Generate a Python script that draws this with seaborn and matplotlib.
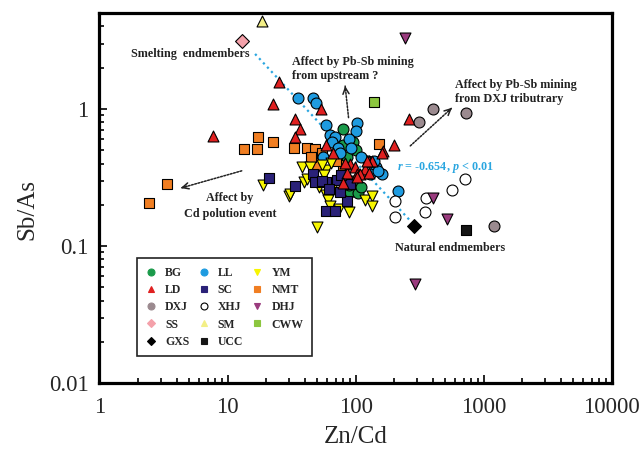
import numpy as np
import pandas as pd
import matplotlib
matplotlib.use('Agg')
import matplotlib.pyplot as plt
import seaborn as sns
from matplotlib.lines import Line2D
from matplotlib.ticker import FixedLocator, LogLocator, NullFormatter

sns.set_style('white')
plt.rcParams['font.family'] = ['Liberation Serif', 'DejaVu Serif']
plt.rcParams['mathtext.fontset'] = 'custom'
plt.rcParams['mathtext.it'] = 'Liberation Serif:italic:bold'
plt.rcParams['mathtext.rm'] = 'Liberation Serif:bold'

# === Data (Zn/Cd, Sb/As) ===
bg_x = [79, 95, 80, 90, 105, 95, 85, 100, 88, 110]
bg_y = [0.71, 0.57, 0.55, 0.25, 0.245, 0.30, 0.45, 0.50, 0.28, 0.27]

ld_x = [25.2, 22.5, 7.7, 54, 33.7, 36.8, 33.7, 59, 200, 163, 259, 90, 99, 102, 85, 126, 133, 118, 108,
        67, 83, 160, 80, 103, 122, 126]
ld_y = [1.57, 1.08, 0.64, 1.0, 0.84, 0.71, 0.62, 0.55, 0.55, 0.495, 0.84, 0.396, 0.375, 0.335, 0.344, 0.418,
        0.418, 0.365, 0.335, 0.48, 0.407, 0.48, 0.29, 0.32, 0.418, 0.344]

dxj_x = [310, 405, 730, 1208]
dxj_y = [0.81, 1.0, 0.94, 0.139]

ss_x = [12.9]
ss_y = [3.12]

gxs_x = [283]
gxs_y = [0.141]

ll_x = [35.3, 46.3, 49.1, 59, 102, 101, 63, 69, 65, 73, 76, 125, 145, 160, 130, 216, 88, 92, 110, 140, 150, 56]
ll_y = [1.2, 1.21, 1.11, 0.77, 0.795, 0.69, 0.65, 0.62, 0.57, 0.52, 0.48, 0.418, 0.375, 0.335, 0.335, 0.253,
        0.60, 0.52, 0.45, 0.42, 0.35, 0.45]

sc_x = [21.1, 46.8, 48.3, 59, 72, 90, 33.7, 85, 59, 69, 55, 75, 62, 77]
sc_y = [0.316, 0.335, 0.291, 0.291, 0.303, 0.283, 0.275, 0.214, 0.181, 0.181, 0.30, 0.25, 0.26, 0.33]

xhj_x = [204, 204, 348, 357, 716, 565]
xhj_y = [0.214, 0.164, 0.176, 0.226, 0.308, 0.256]

sm_x = [18.5]
sm_y = [4.4]

ucc_x = [730]
ucc_y = [0.132]

ym_x = [19.0, 30.4, 38, 59, 64.7, 39.2, 30.8, 59, 61, 62.8, 74, 88, 118, 133, 133, 49.8, 44, 55, 57, 52, 65, 42]
ym_y = [0.279, 0.233, 0.375, 0.361, 0.401, 0.291, 0.24, 0.236, 0.217, 0.197, 0.187, 0.178, 0.217, 0.233,
        0.197, 0.137, 0.38, 0.39, 0.33, 0.27, 0.26, 0.31]

nmt_x = [17.2, 22.7, 13.5, 16.9, 3.39, 2.45, 33.3, 41.6, 48.3, 52.8, 49.1, 80, 151, 45, 55, 70]
nmt_y = [0.625, 0.575, 0.514, 0.514, 0.286, 0.205, 0.523, 0.523, 0.509, 0.443, 0.392, 0.392, 0.56, 0.45,
         0.48, 0.42]

dhj_x = [243, 405, 516, 290]
dhj_y = [3.3, 0.226, 0.158, 0.053]

cww_x = [140]
cww_y = [1.13]

# regression line end points
fit_x = [16.4, 267]
fit_y = [2.52, 0.153]

groups = {
    'NMT': (nmt_x, nmt_y, 's', '#f07e22'),
    'BG': (bg_x, bg_y, 'o', '#1a9a4a'),
    'LL': (ll_x, ll_y, 'o', '#1e9be0'),
    'YM': (ym_x, ym_y, 'v', '#f7f500'),
    'SC': (sc_x, sc_y, 's', '#2a2178'),
    'LD': (ld_x, ld_y, '^', '#e02020'),
    'XHJ': (xhj_x, xhj_y, 'o', 'white'),
    'DHJ': (dhj_x, dhj_y, 'v', '#9a3b7e'),
    'DXJ': (dxj_x, dxj_y, 'o', '#9b8a8f'),
    'SS': (ss_x, ss_y, 'D', '#f4a1aa'),
    'SM': (sm_x, sm_y, '^', '#f3ef86'),
    'GXS': (gxs_x, gxs_y, 'D', 'black'),
    'UCC': (ucc_x, ucc_y, 's', '#151515'),
    'CWW': (cww_x, cww_y, 's', '#8cc63f'),
}
sizes = {'o': 62, 's': 52, '^': 62, 'v': 62, 'D': 50}

fig = plt.figure(figsize=(6.44, 4.54), dpi=100)
ax = fig.add_axes([0.1545, 0.156, 0.7955, 0.815])

ax.plot(fit_x, fit_y, ls=':', color='#2aa6e0', lw=1.6, zorder=1)

for name, (xs, ys, mk, fc) in groups.items():
    d = pd.DataFrame({'x': xs, 'y': ys})
    sns.scatterplot(data=d, x='x', y='y', ax=ax, marker=mk, color=fc, edgecolor='black',
                    linewidth=0.8, s=sizes[mk], zorder=3, legend=False)

ax.set_xscale('log')
ax.set_yscale('log')
ax.set_xlim(1, 10000)
ax.set_ylim(0.01, 5)

ax.xaxis.set_major_locator(FixedLocator([1, 10, 100, 1000, 10000]))
ax.set_xticklabels(['1', '10', '100', '1000', '10000'])
ax.yaxis.set_major_locator(FixedLocator([0.01, 0.1, 1]))
ax.set_yticklabels(['0.01', '0.1', '1'])
ax.xaxis.set_minor_locator(LogLocator(base=10, subs=np.arange(2, 10)))
ax.yaxis.set_minor_locator(LogLocator(base=10, subs=np.arange(2, 10)))
ax.xaxis.set_minor_formatter(NullFormatter())
ax.yaxis.set_minor_formatter(NullFormatter())
ax.tick_params(which='both', direction='in', bottom=True, left=True, top=False, right=False,
               width=1.2, color='black')
ax.tick_params(which='major', length=6, labelsize=16.5)
ax.tick_params(which='minor', length=3.5)
ax.tick_params(axis='x', which='major', pad=10)
ax.tick_params(axis='y', which='major', pad=8)

for sp in ax.spines.values():
    sp.set_linewidth(2.3)
    sp.set_color('black')

ax.set_xlabel('Zn/Cd', fontsize=18)
ax.set_ylabel('Sb/As', fontsize=18)
ax.xaxis.set_label_coords(0.5, -0.115)
ax.yaxis.set_label_coords(-0.12, 0.47)

# annotations
tkw = dict(fontsize=8.7, fontweight='bold', color='#222222')
ax.text(1.76, 2.52, 'Smelting  endmembers', ha='left', va='center', **tkw)
ax.text(31.7, 1.96, 'Affect by Pb-Sb mining\nfrom upstream ?', ha='left', va='center', linespacing=1.3, **tkw)
ax.text(598, 1.33, 'Affect by Pb-Sb mining\nfrom DXJ tributrary', ha='left', va='center', linespacing=1.3, **tkw)
ax.text(10.4, 0.197, 'Affect by\nCd polution event', ha='center', va='center', linespacing=1.4, **tkw)
ax.text(204, 0.097, 'Natural endmembers', ha='left', va='center', **tkw)
ax.text(211, 0.372, '$r$ = -0.654, $p$ < 0.01', ha='left', va='center', fontsize=8.7,
        fontweight='bold', color='#2aa6e0')

arrows = [((88, 0.865), (82.8, 1.47)),
          ((267, 0.538), (565, 1.02)),
          ((12.9, 0.354), (4.31, 0.265))]
for (tx, ty), (hx, hy) in arrows:
    ax.annotate('', xy=(hx, hy), xytext=(tx, ty),
                arrowprops=dict(arrowstyle='-', ls=(0, (1.2, 1)), lw=1.1, color='#222222',
                                shrinkA=0, shrinkB=0))
    # small solid head
    mx = 10 ** (np.log10(hx) * 0.9 + np.log10(tx) * 0.1)
    my = 10 ** (np.log10(hy) * 0.9 + np.log10(ty) * 0.1)
    ax.annotate('', xy=(hx, hy), xytext=(mx, my),
                arrowprops=dict(arrowstyle='->,head_length=0.45,head_width=0.22', lw=1.1,
                                color='#222222', shrinkA=0, shrinkB=0))

# legend in row order
order = [['BG', 'LD', 'DXJ', 'SS', 'GXS'],
         ['LL', 'SC', 'XHJ', 'SM', 'UCC'],
         ['YM', 'NMT', 'DHJ', 'CWW']]
handles, labels = [], []
for col in order:
    for name in col:
        _, _, mk, fc = groups[name]
        edge = 'black' if name == 'XHJ' else fc
        handles.append(Line2D([], [], ls='', marker=mk, markersize=5 if mk != 'D' else 4.5,
                              markerfacecolor=fc, markeredgecolor=edge, markeredgewidth=0.8))
        labels.append(name)
leg = ax.legend(handles, labels, ncol=3, loc='lower left', bbox_to_anchor=(0.073, 0.073),
                borderaxespad=0, frameon=True, fancybox=False, framealpha=1, edgecolor='#222222',
                prop={'weight': 'bold', 'size': 8.5}, handlelength=1.0, handletextpad=0.7,
                columnspacing=0.7, labelspacing=0.45, borderpad=0.7)
leg.get_frame().set_linewidth(1.2)

fig.savefig('out.png', dpi=100)
